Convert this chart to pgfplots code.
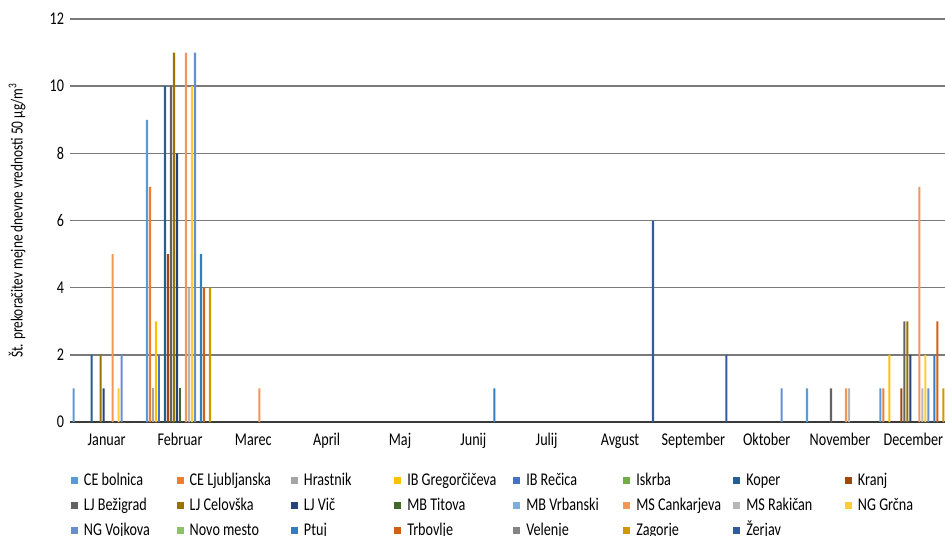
\documentclass[border=0pt]{standalone}
\usepackage{pgfplots}
\pgfplotsset{compat=1.18}
\usepackage{fontspec}
\setmainfont{Carlito}[FakeStretch=0.79]
\definecolor{c0}{HTML}{5B9BD5}
\definecolor{c1}{HTML}{ED7D31}
\definecolor{c2}{HTML}{A5A5A5}
\definecolor{c3}{HTML}{FFC000}
\definecolor{c4}{HTML}{4472C4}
\definecolor{c5}{HTML}{70AD47}
\definecolor{c6}{HTML}{255E91}
\definecolor{c7}{HTML}{9E480E}
\definecolor{c8}{HTML}{636363}
\definecolor{c9}{HTML}{997300}
\definecolor{c10}{HTML}{264478}
\definecolor{c11}{HTML}{43682B}
\definecolor{c12}{HTML}{7CAFDD}
\definecolor{c13}{HTML}{F1975A}
\definecolor{c14}{HTML}{B7B7B7}
\definecolor{c15}{HTML}{FFCD33}
\definecolor{c16}{HTML}{698ED0}
\definecolor{c17}{HTML}{8CC168}
\definecolor{c18}{HTML}{327DC2}
\definecolor{c19}{HTML}{D26012}
\definecolor{c20}{HTML}{848484}
\definecolor{c21}{HTML}{CC9A00}
\definecolor{c22}{HTML}{335AA1}
\definecolor{gridc}{HTML}{7A7A7A}
\definecolor{axc}{HTML}{3A3A3A}
\newcommand{\lw}[2]{\makebox[#1bp][l]{#2}}
\begin{document}
\begin{tikzpicture}
\useasboundingbox (0,0) rectangle (945bp,-536bp);
\begin{axis}[
  at={(70bp,-422bp)}, anchor=south west,
  scale only axis, width=880bp, height=403bp,
  xmin=-0.5, xmax=11.5, ymin=0, ymax=12,
  ybar=0.9bp, bar width=2.1bp,
  xtick={0,...,11},
  xticklabels={Januar,Februar,Marec,April,Maj,Junij,Julij,Avgust,September,Oktober,November,December},
  ytick={0,2,...,12},
  major tick length=0pt,
  axis line style={draw=none},
  ymajorgrids, grid style={line width=1.4bp, color=gridc},
  extra y ticks={0}, extra y tick labels={}, extra y tick style={grid style={line width=1.6bp, color=axc}},
  /pgf/number format/assume math mode=true,
  tick label style={font=\fontsize{18}{21}\selectfont},
  yticklabel style={anchor=east, xshift=-2.5bp},
  xticklabel style={anchor=base, yshift=-23bp},
  ylabel={Št. prekoračitev mejne dnevne vrednosti 50 µg/m\textsuperscript{3}},
  every axis y label/.style={at={(axis description cs:-0.0602,0.5)}, rotate=90, anchor=center, font=\fontsize{17}{20}\selectfont},
  legend columns=8,
  legend style={at={(0.0011,-0.113)}, anchor=north west, draw=none, fill=none, inner sep=0pt, outer sep=0pt,
    font=\fontsize{18}{21}\selectfont, column sep=0pt, row sep=0pt,
    /tikz/every odd column/.style={column sep=6bp}, /tikz/every even column/.style={column sep=0bp},
    nodes={inner sep=0pt, text height=18.3bp, text depth=6.7bp}, cells={anchor=west}},
  every axis plot/.append style={draw=none, legend image code/.code={\fill[##1] (0bp,-3.5bp) rectangle (7bp,3.5bp);}},
]
\addplot[fill=c0] coordinates {(0,1) (1,9) (10,1) (11,1)};
\addlegendentry{\lw{92.7}{CE bolnica}}
\addplot[fill=c1] coordinates {(1,7) (11,1)};
\addlegendentry{\lw{101.3}{CE Ljubljanska}}
\addplot[fill=c2] coordinates {(1,1)};
\addlegendentry{\lw{90.3}{Hrastnik}}
\addplot[fill=c3] coordinates {(1,3) (11,2)};
\addlegendentry{\lw{106}{IB Gregorčičeva}}
\addplot[fill=c4] coordinates {(1,2)};
\addlegendentry{\lw{97}{IB Rečica}}
\addplot[fill=c5] coordinates {(0,0)};
\addlegendentry{\lw{97}{Iskrba}}
\addplot[fill=c6] coordinates {(0,2) (1,10)};
\addlegendentry{\lw{98.7}{Koper}}
\addplot[fill=c7] coordinates {(1,5) (11,1)};
\addlegendentry{\lw{60}{Kranj}}
\addplot[fill=c8] coordinates {(1,10) (10,1) (11,3)};
\addlegendentry{\lw{92.7}{LJ Bežigrad}}
\addplot[fill=c9] coordinates {(0,2) (1,11) (11,3)};
\addlegendentry{\lw{101.3}{LJ Celovška}}
\addplot[fill=c10] coordinates {(0,1) (1,8) (11,2)};
\addlegendentry{\lw{90.3}{LJ Vič}}
\addplot[fill=c11] coordinates {(1,1)};
\addlegendentry{\lw{106}{MB Titova}}
\addplot[fill=c12] coordinates {(0,0)};
\addlegendentry{\lw{97}{MB Vrbanski}}
\addplot[fill=c13] coordinates {(0,5) (1,11) (2,1) (10,1) (11,7)};
\addlegendentry{\lw{97}{MS Cankarjeva}}
\addplot[fill=c14] coordinates {(1,4) (10,1) (11,1)};
\addlegendentry{\lw{98.7}{MS Rakičan}}
\addplot[fill=c15] coordinates {(0,1) (1,10) (11,2)};
\addlegendentry{\lw{60}{NG Grčna}}
\addplot[fill=c16] coordinates {(0,2) (1,11) (9,1) (11,1)};
\addlegendentry{\lw{92.7}{NG Vojkova}}
\addplot[fill=c17] coordinates {(0,0)};
\addlegendentry{\lw{101.3}{Novo mesto}}
\addplot[fill=c18] coordinates {(1,5) (5,1) (11,2)};
\addlegendentry{\lw{90.3}{Ptuj}}
\addplot[fill=c19] coordinates {(1,4) (11,3)};
\addlegendentry{\lw{106}{Trbovlje}}
\addplot[fill=c20] coordinates {(0,0)};
\addlegendentry{\lw{97}{Velenje}}
\addplot[fill=c21] coordinates {(1,4) (11,1)};
\addlegendentry{\lw{97}{Zagorje}}
\addplot[fill=c22] coordinates {(7,6) (8,2)};
\addlegendentry{\lw{98.7}{Žerjav}}
\end{axis}
\end{tikzpicture}
\end{document}
